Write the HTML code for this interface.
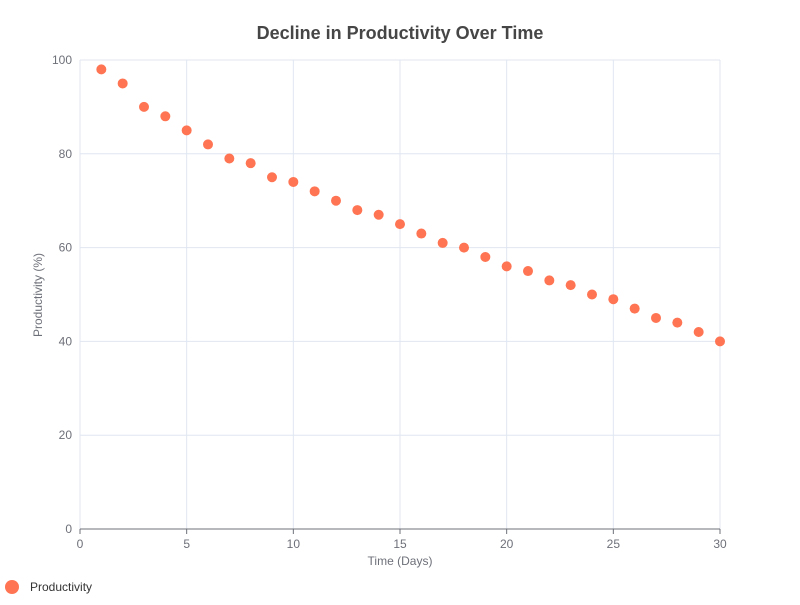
<!DOCTYPE html>
<html><head><meta charset="utf-8"><style>
body{margin:0;background:#fff;font-family:"Liberation Sans",sans-serif;}
svg text{font-family:"Liberation Sans",sans-serif;}
</style></head><body>
<svg id="chart" width="800" height="600" xmlns="http://www.w3.org/2000/svg">
<text x="400" y="39" text-anchor="middle" font-size="18" font-weight="bold" fill="#464646">Decline in Productivity Over Time</text>
<g id="grid"></g><g id="axes"></g><g id="points"></g>
<text x="400" y="565" text-anchor="middle" font-size="12" fill="#6e7079">Time (Days)</text>
<text transform="translate(42,295) rotate(-90)" text-anchor="middle" font-size="12" fill="#6e7079">Productivity (%)</text>
<g><circle cx="12" cy="587" r="7" fill="#ff7452"/><text x="30" y="591" font-size="12" fill="#333">Productivity</text></g>
</svg>
<script>
const days=[1,2,3,4,5,6,7,8,9,10,11,12,13,14,15,16,17,18,19,20,21,22,23,24,25,26,27,28,29,30];
const productivity=[98,95,90,88,85,82,79,78,75,74,72,70,68,67,65,63,61,60,58,56,55,53,52,50,49,47,45,44,42,40];
const xTicks=[0,5,10,15,20,25,30];
const yTicks=[0,20,40,60,80,100];
const NS="http://www.w3.org/2000/svg";
const X0=80,X1=720,Y0=529,Y1=60;
const xs=v=>X0+(v-0)/30*(X1-X0);
const ys=v=>Y0-(v-0)/100*(Y0-Y1);
function mk(tag,at,parent){const e=document.createElementNS(NS,tag);for(const k in at)e.setAttribute(k,at[k]);document.getElementById(parent).appendChild(e);return e;}
yTicks.forEach(t=>{
 const l=mk('line',{x1:X0,x2:X1,y1:ys(t),y2:ys(t),stroke:'#e0e6f1'},'grid');
 
 
 const tx=mk('text',{x:X0-8,y:ys(t)+4,'text-anchor':'end','font-size':12,fill:'#6e7079'},'axes');
 tx.textContent=t;
 
 
});
xTicks.forEach(t=>{
 const l=mk('line',{x1:xs(t),x2:xs(t),y1:Y1,y2:Y0,stroke:'#e0e6f1'},'grid');
 
 
 const tk=mk('line',{x1:xs(t),x2:xs(t),y1:Y0,y2:Y0+5,stroke:'#6e7079'},'axes');
 
 
 const tx=mk('text',{x:xs(t),y:Y0+19,'text-anchor':'middle','font-size':12,fill:'#6e7079'},'axes');
 tx.textContent=t;
 
 
});
const ax=mk('line',{x1:X0,x2:X1,y1:Y0,y2:Y0,stroke:'#6e7079'},'axes');


days.forEach((d,i)=>{
 const c=mk('circle',{cx:xs(d),cy:ys(productivity[i]),r:5,fill:'#ff7452'},'points');
 
 
});
</script>
</body></html>
